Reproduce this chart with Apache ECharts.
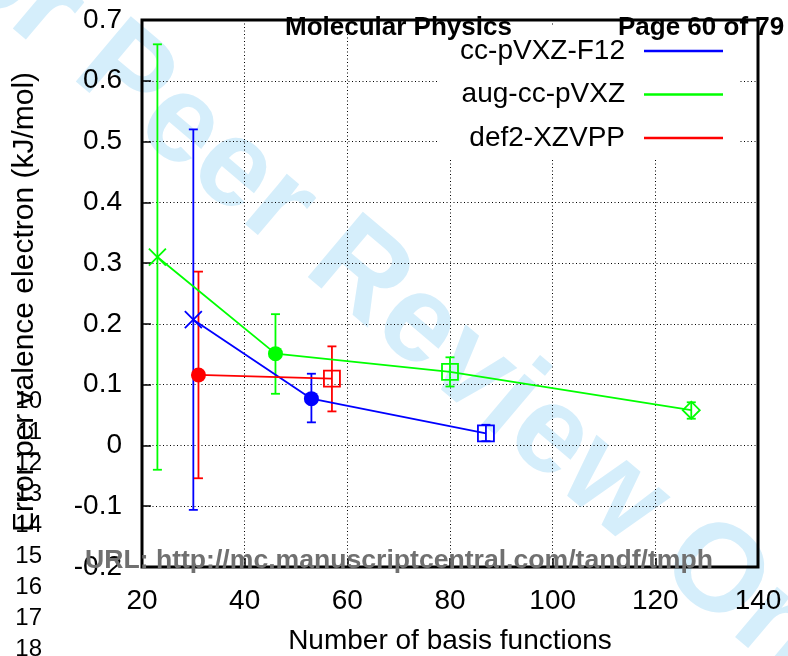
<!DOCTYPE html>
<html>
<head>
<meta charset="utf-8">
<script src="https://cdn.jsdelivr.net/npm/echarts@6/dist/echarts.min.js"></script>
<style>
html,body{margin:0;padding:0;background:#fff;}
#chart{width:788px;height:656px;}
</style>
</head>
<body>
<div id="chart"></div>
<script>
// ---------------- data ----------------
const seriesNames = ['cc-pVXZ-F12', 'aug-cc-pVXZ', 'def2-XZVPP'];

const f12X     = [30, 53, 87];
const f12Y     = [0.207, 0.077, 0.020];
const f12Lo    = [-0.106, 0.038, 0.007];
const f12Hi    = [0.520, 0.118, 0.034];
const f12Level = ['D', 'T', 'Q'];

const augX     = [23, 46, 80, 127];
const augY     = [0.310, 0.151, 0.121, 0.058];
const augLo    = [-0.040, 0.085, 0.097, 0.044];
const augHi    = [0.660, 0.216, 0.145, 0.071];
const augLevel = ['D', 'T', 'Q', '5'];

const def2X     = [31, 57];
const def2Y     = [0.116, 0.110];
const def2Lo    = [-0.054, 0.056];
const def2Hi    = [0.286, 0.163];
const def2Level = ['T', 'Q'];

const xTicks = [20, 40, 60, 80, 100, 120, 140];
const yTicks = [-0.2, -0.1, 0, 0.1, 0.2, 0.3, 0.4, 0.5, 0.6, 0.7];
const lineNumbers = [10, 11, 12, 13, 14, 15, 16, 17, 18];

const xTitle = 'Number of basis functions';
const yTitle = 'Error per valence electron (kJ/mol)';
const headerLeft = 'Molecular Physics';
const headerRight = 'Page 60 of 79';
const urlText = 'URL: http://mc.manuscriptcentral.com/tandf/tmph';
const watermark = 'For Peer Review Only';

// ---------------- styles ----------------
const colors = ['#0000ff', '#00ff00', '#ff0000'];
const FONT = '"Liberation Sans", Arial, Helvetica, sans-serif';
const crossPath = 'path://M0,0L10,10M0,10L10,0';
const levelStyle = {
  D: {symbol: crossPath, size: 17, filled: false},
  T: {symbol: 'circle', size: 15, filled: true},
  Q: {symbol: 'rect', size: 16, filled: false},
  '5': {symbol: 'diamond', size: 17, filled: false}
};

function pointData(xs, ys, levels, color) {
  return xs.map((x, i) => {
    const st = levelStyle[levels[i]];
    return {
      value: [x, ys[i]],
      symbol: st.symbol,
      symbolSize: st.size,
      itemStyle: st.filled
        ? {color: color, borderWidth: 0}
        : {color: 'rgba(0,0,0,0)', borderColor: color, borderWidth: 1.8}
    };
  });
}
function errData(xs, lo, hi) {
  return xs.map((x, i) => [x, lo[i], hi[i]]);
}
function errRender(color) {
  return function (params, api) {
    const x = api.value(0);
    const pLo = api.coord([x, api.value(1)]);
    const pHi = api.coord([x, api.value(2)]);
    const cap = 4.5;
    const style = {stroke: color, lineWidth: 1.8};
    return {
      type: 'group',
      children: [
        {type: 'line', shape: {x1: pLo[0], y1: pLo[1], x2: pHi[0], y2: pHi[1]}, style: style},
        {type: 'line', shape: {x1: pLo[0] - cap, y1: pLo[1], x2: pLo[0] + cap, y2: pLo[1]}, style: style},
        {type: 'line', shape: {x1: pHi[0] - cap, y1: pHi[1], x2: pHi[0] + cap, y2: pHi[1]}, style: style}
      ]
    };
  };
}

const sets = [
  {name: seriesNames[0], x: f12X, y: f12Y, lo: f12Lo, hi: f12Hi, lv: f12Level},
  {name: seriesNames[1], x: augX, y: augY, lo: augLo, hi: augHi, lv: augLevel},
  {name: seriesNames[2], x: def2X, y: def2Y, lo: def2Lo, hi: def2Hi, lv: def2Level}
];

const series = [];
sets.forEach((s, k) => {
  series.push({
    name: s.name + ' error',
    type: 'custom',
    renderItem: errRender(colors[k]),
    data: errData(s.x, s.lo, s.hi),
    encode: {x: 0, y: [1, 2]},
    z: 3,
    silent: true
  });
  series.push({
    name: s.name,
    type: 'line',
    data: pointData(s.x, s.y, s.lv, colors[k]),
    showAllSymbol: true,
    lineStyle: {color: colors[k], width: 1.8},
    itemStyle: {color: colors[k]},
    z: 4,
    animation: false
  });
});

const dotted = {color: '#000', width: 1, type: [1, 2.5]};

const graphic = [
  {type: 'text', x: 400, y: 310, rotation: -0.70, z: -100, silent: true,
   style: {text: watermark, font: 'bold 124px ' + FONT, fill: '#d5eefb', align: 'center', verticalAlign: 'middle'}},
  {type: 'text', left: 285, top: 15, z: 100,
   style: {text: headerLeft, font: 'bold 26px ' + FONT, fill: '#000'}},
  {type: 'text', left: 618, top: 15, z: 100,
   style: {text: headerRight, font: 'bold 26px ' + FONT, fill: '#000'}},
  {type: 'text', left: 85, top: 547, z: 100,
   style: {text: urlText, font: 'bold 26.6px ' + FONT, fill: '#707070'}},
  {type: 'text', x: 25, y: 302, rotation: Math.PI / 2, z: 40,
   style: {text: yTitle, font: '30px ' + FONT, fill: '#000', align: 'center', verticalAlign: 'middle'}}
];
lineNumbers.forEach((n, i) => {
  graphic.push({type: 'text', x: 42, y: 401 + i * 31, z: 50,
    style: {text: String(n), font: '24px ' + FONT, fill: '#000', align: 'right', verticalAlign: 'middle'}});
});

const option = {
  animation: false,
  backgroundColor: '#fff',
  textStyle: {fontFamily: FONT},
  grid: {left: 142, top: 20, right: 30, bottom: 89, show: true, borderColor: '#000', borderWidth: 3,
         backgroundColor: 'transparent', z: 5, containLabel: false, outerBoundsMode: 'none'},
  legend: {
    data: seriesNames,
    orient: 'vertical',
    align: 'right',
    right: 48,
    top: 25,
    icon: 'rect',
    itemWidth: 79,
    itemHeight: 2.5,
    itemGap: 15.5,
    padding: [12, 17, 7, 21],
    backgroundColor: '#fff',
    itemStyle: {borderWidth: 0},
    textStyle: {fontSize: 28, color: '#000', fontFamily: FONT, padding: [0, 14, 0, 0]},
    selectedMode: false,
    z: 6
  },
  xAxis: {
    type: 'value', min: 20, max: 140, interval: 20,
    axisLine: {show: false, onZero: false},
    axisTick: {show: true, inside: true, length: 9, lineStyle: {color: '#000', width: 1.5}},
    axisLabel: {fontSize: 28, color: '#000', margin: 20, fontFamily: FONT,
      formatter: v => String(v)},
    splitLine: {show: true, lineStyle: dotted},
    name: xTitle, nameLocation: 'middle', nameGap: 60,
    nameTextStyle: {fontSize: 28, color: '#000', fontFamily: FONT}
  },
  yAxis: {
    type: 'value', min: -0.2, max: 0.7, interval: 0.1,
    axisLine: {show: false, onZero: false},
    axisTick: {show: true, inside: true, length: 9, lineStyle: {color: '#000', width: 1.5}},
    axisLabel: {fontSize: 28, color: '#000', margin: 20, fontFamily: FONT,
      formatter: v => String(+v.toFixed(1))},
    splitLine: {show: true, lineStyle: dotted}
  },
  graphic: graphic,
  series: series
};

const chart = echarts.init(document.getElementById('chart'), null, {renderer: 'canvas'});
chart.setOption(option);
</script>
</body>
</html>
